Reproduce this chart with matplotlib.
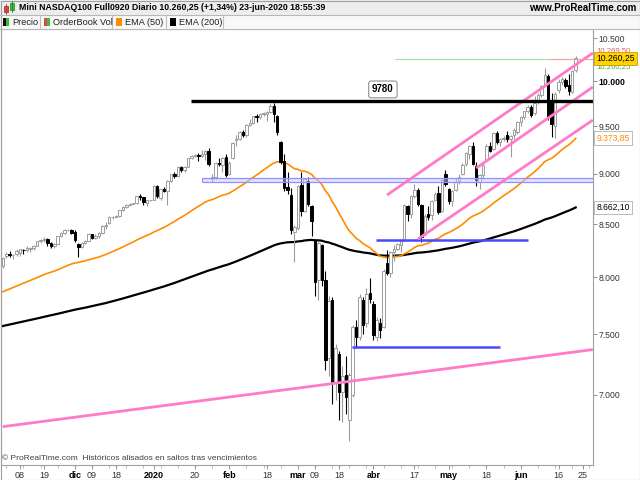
import matplotlib
matplotlib.use("Agg")
import matplotlib.pyplot as plt
import matplotlib.ticker as mticker
import matplotlib.transforms as mtransforms
from matplotlib.patches import Rectangle
import numpy as np
import pandas as pd

plt.rcParams['font.family'] = ['Liberation Sans', 'DejaVu Sans']

# trading sessions (business days); the axis runs a week past the last bar
days = pd.bdate_range('2019-11-01', '2020-07-03')

opens = [8100, 8195, 8215, 8205, 8215, 8225, 8255, 8250, 8260, 8270,
         8295, 8335, 8345, 8355, 8320, 8295, 8310, 8385, 8410, 8440,
         8445, 8420, 8310, 8285, 8320, 8340, 8400, 8370, 8385, 8415,
         8480, 8510, 8565, 8570, 8575, 8640, 8665, 8690, 8700, 8705,
         8780, 8765, 8705, 8735, 8740, 8880, 8760, 8845, 8830, 8930,
         8995, 8980, 9070, 9040, 9070, 9160, 9185, 9190, 9180, 9200,
         9235, 8950, 8965, 9115, 9090, 9170, 9000, 9160, 9350, 9365,
         9435, 9400, 9515, 9535, 9610, 9600, 9630, 9630, 9655, 9720,
         9610, 9330, 9130, 8870, 8790, 8420, 8460, 8890, 8630, 8930,
         8680, 8350, 7980, 8300, 7980, 7300, 7800, 7100, 7330, 7020,
         7160, 6800, 7000, 7560, 7480, 7800, 7600, 7860, 7760, 7480,
         7600, 7560, 8130, 8040, 8230, 8260, 8300, 8350, 8680, 8600,
         8780, 8840, 8690, 8400, 8600, 8590, 8740, 8810, 8630, 9000,
         8850, 8730, 8840, 8930, 9000, 9100, 9200, 9290, 9080, 8920,
         8990, 9150, 9290, 9260, 9430, 9330, 9360, 9400, 9360, 9400,
         9440, 9550, 9600, 9660, 9710, 9640, 9760, 9840, 9960, 10060,
         9790, 9500, 9900, 9990, 10010, 9950, 9880, 10130]
highs = [8190, 8230, 8240, 8220, 8265, 8265, 8265, 8290, 8285, 8300,
         8340, 8355, 8380, 8365, 8330, 8320, 8390, 8420, 8450, 8450,
         8450, 8440, 8320, 8330, 8345, 8410, 8405, 8400, 8420, 8490,
         8520, 8575, 8580, 8590, 8640, 8675, 8700, 8705, 8705, 8780,
         8800, 8770, 8740, 8740, 8885, 8890, 8850, 8865, 8935, 9000,
         9020, 9075, 9080, 9080, 9165, 9195, 9200, 9215, 9245, 9250,
         9270, 9000, 9120, 9160, 9170, 9200, 9130, 9330, 9400, 9450,
         9455, 9520, 9580, 9615, 9630, 9640, 9650, 9665, 9740, 9755,
         9625, 9345, 9200, 9020, 8860, 8490, 8890, 9020, 8960, 8970,
         8690, 8360, 8340, 8310, 8060, 7830, 7820, 7420, 7360, 7230,
         7320, 7180, 7580, 7620, 7850, 7820, 7900, 7990, 7790, 7650,
         7640, 8080, 8250, 8240, 8300, 8320, 8360, 8700, 8690, 8790,
         8900, 8860, 8700, 8600, 8680, 8740, 8820, 8880, 8960, 9040,
         8860, 8840, 8960, 9000, 9110, 9220, 9300, 9330, 9120, 9000,
         9100, 9310, 9330, 9440, 9450, 9370, 9390, 9450, 9400, 9480,
         9560, 9610, 9670, 9730, 9730, 9830, 9860, 9960, 10150, 10080,
         9860, 9880, 10020, 10050, 10040, 10080, 10130, 10290]
lows = [8090, 8180, 8190, 8170, 8200, 8200, 8220, 8235, 8230, 8250,
        8290, 8315, 8330, 8290, 8270, 8270, 8305, 8375, 8405, 8430,
        8400, 8330, 8190, 8270, 8305, 8335, 8360, 8360, 8370, 8400,
        8450, 8505, 8550, 8555, 8570, 8630, 8655, 8680, 8695, 8700,
        8740, 8690, 8680, 8730, 8735, 8760, 8740, 8815, 8690, 8920,
        8960, 8970, 9020, 9020, 9065, 9150, 9175, 9130, 9175, 9140,
        9080, 8920, 8950, 9080, 9020, 8970, 8985, 9150, 9290, 9355,
        9380, 9380, 9500, 9525, 9550, 9580, 9615, 9560, 9645, 9540,
        9400, 9100, 8830, 8800, 8400, 8140, 8440, 8580, 8620, 8680,
        8390, 7830, 7800, 7920, 7200, 7150, 6930, 6960, 6800, 6790,
        6850, 6640, 6980, 7380, 7450, 7500, 7560, 7770, 7450, 7440,
        7470, 7550, 8020, 8000, 8150, 8250, 8230, 8340, 8530, 8560,
        8760, 8680, 8330, 8390, 8540, 8540, 8730, 8600, 8620, 8880,
        8700, 8680, 8830, 8900, 8990, 9080, 9150, 9090, 8880, 8850,
        8950, 9140, 9230, 9250, 9310, 9290, 9340, 9330, 9170, 9360,
        9420, 9500, 9580, 9640, 9600, 9620, 9740, 9820, 9950, 9570,
        9380, 9370, 9860, 9960, 9920, 9840, 9860, 10100]
closes = [8175, 8215, 8205, 8210, 8240, 8260, 8250, 8270, 8275, 8290,
          8335, 8345, 8360, 8320, 8290, 8305, 8385, 8410, 8440, 8445,
          8415, 8345, 8280, 8320, 8335, 8400, 8370, 8385, 8415, 8480,
          8495, 8565, 8570, 8575, 8635, 8665, 8690, 8700, 8702, 8775,
          8765, 8715, 8735, 8738, 8880, 8780, 8845, 8830, 8925, 8995,
          8975, 9070, 9040, 9065, 9160, 9185, 9190, 9180, 9200, 9235,
          9105, 8965, 9110, 9100, 9160, 8990, 9115, 9320, 9365, 9440,
          9410, 9515, 9530, 9605, 9595, 9630, 9640, 9650, 9720, 9630,
          9440, 9120, 8860, 8840, 8440, 8470, 8880, 8630, 8950, 8700,
          8530, 7960, 8320, 7980, 7280, 7790, 7100, 7380, 7020, 7150,
          6980, 7160, 7560, 7480, 7820, 7580, 7850, 7810, 7490, 7620,
          7540, 8060, 8040, 8230, 8260, 8310, 8340, 8690, 8600, 8780,
          8840, 8700, 8380, 8580, 8570, 8730, 8800, 8620, 8940, 8900,
          8730, 8830, 8920, 8970, 9090, 9210, 9290, 9100, 8940, 8990,
          9090, 9290, 9240, 9430, 9330, 9360, 9370, 9360, 9390, 9460,
          9550, 9600, 9660, 9710, 9620, 9750, 9840, 9940, 10070, 9600,
          9520, 9850, 9990, 10020, 9940, 9890, 10120, 10260.25]

# EMA levels at the left edge of the chart (history before the window)
ema50_start = 7870
ema200_start = 7570
ema50_label = '9.373,85'
ema200_label = '8.662,10'

# drawn objects
resistance = 9780
resistance_from = '2020-01-16'
band = (8915, 8958)
band_from = '2020-01-22'
blue_lines = [('2020-04-02', '2020-06-03', 8347),
              ('2020-03-24', '2020-05-22', 7388)]
pink_lines = [('2019-11-01', 6752, '2020-06-30', 7370),
              ('2020-04-07', 8785, '2020-06-30', 10324),
              ('2020-05-13', 9058, '2020-06-30', 9932),
              ('2020-04-20', 8356, '2020-06-30', 9566)]

last_price = 10260.25
ask_price = 10269.50

y_ticks = [7000, 7500, 8000, 8500, 9000, 9500, 10000, 10500]
x_tick_days = ['2019-11-08', '2019-11-19', '2019-12-02', '2019-12-09', '2019-12-18',
               '2020-01-02', '2020-01-20', '2020-02-03', '2020-02-18', '2020-03-02',
               '2020-03-09', '2020-03-18', '2020-04-01', '2020-04-17', '2020-05-01',
               '2020-05-18', '2020-06-01', '2020-06-16', '2020-06-25']
x_tick_text = ['08', '19', 'dic', '09', '18', '2020', '20', 'feb', '18', 'mar',
               '09', '18', 'abr', '17', 'may', '18', 'jun', '16', '25']
bold_ticks = ['dic', '2020', 'feb', 'mar', 'abr', 'may', 'jun']


def pos(day):
    return days.get_loc(pd.Timestamp(day))


def ema(values, span, start):
    a = 2.0 / (span + 1)
    out = [start]
    for v in values[1:]:
        out.append(out[-1] + a * (v - out[-1]))
    return np.array(out)


o = np.array(opens, float)
h = np.array(highs, float)
l = np.array(lows, float)
c = np.array(closes, float)
x = np.arange(len(c))

fig = plt.figure(figsize=(6.4, 4.8), dpi=100)
ax = fig.add_axes([1 / 640, 15 / 480, 592 / 640, 436 / 480])
ax.set_yscale('log')
ax.set_xlim(-0.54, 172.05)
ax.set_ylim(6464, 10609)

# EMAs
ax.plot(x, ema(c, 200, ema200_start), color='black', lw=1.6, zorder=2)
ax.plot(x, ema(c, 50, ema50_start), color='#ff8c00', lw=1.2, zorder=2)

# candles
up = c >= o
gray = '#9c9c9c'
ax.vlines(x[up], l[up], h[up], color=gray, lw=0.8, zorder=3)
ax.vlines(x[~up], l[~up], h[~up], color='black', lw=0.8, zorder=3)
bottom = np.minimum(o, c)
height = np.maximum(np.abs(c - o), 4)
ax.bar(x[up], height[up], bottom=bottom[up], width=0.72, color='white',
       edgecolor=gray, lw=0.7, zorder=4)
ax.bar(x[~up], height[~up], bottom=bottom[~up], width=0.72, color='black',
       edgecolor='black', lw=0.7, zorder=4)

right = ax.get_xlim()[1]

# blue band
b0 = pos(band_from) + 0.1
ax.fill_between([b0, right], band[0], band[1], color='#c8c8ff', alpha=0.5, lw=0, zorder=5)
ax.hlines(band, b0, right, color='#9090ff', lw=0.9, zorder=5)
ax.vlines(b0, band[0], band[1], color='#9090ff', lw=0.9, zorder=5)

# horizontal blue lines
for d0, d1, lvl in blue_lines:
    ax.hlines(lvl, pos(d0) - 0.3, pos(d1), color='#4848ff', lw=1.8, zorder=5)

# pink trend lines
for d0, p0, d1, p1 in pink_lines:
    ax.plot([pos(d0), pos(d1)], [p0, p1], color='#ff7ac8', lw=2.0, zorder=5,
            solid_capstyle='butt')

# resistance
ax.hlines(resistance, pos(resistance_from) + 0.9, right, color='black', lw=2.4, zorder=6)
ax.text(110.8, 9905, f'{resistance}', ha='center', va='center', fontsize=7,
        fontweight='bold', zorder=7,
        bbox=dict(boxstyle='round,pad=0.35,rounding_size=0.25', fc='white', ec='#909090', lw=0.8))

# last price line (bid / ask)
ax.hlines(10255, 114.3, 158.8, color='#9ee09e', lw=0.8, zorder=5)
ax.hlines(10255, 158.8, right, color='#f0a0a0', lw=0.8, zorder=5)

# axes styling
for s in ax.spines.values():
    s.set_color('#a0a0a0')
    s.set_linewidth(0.8)
ax.yaxis.tick_right()
ax.yaxis.set_major_locator(mticker.FixedLocator(y_ticks))
ax.yaxis.set_major_formatter(mticker.FixedFormatter(
    [f'{v:,}'.replace(',', '.') for v in y_ticks]))
ax.yaxis.set_minor_locator(mticker.NullLocator())
ax.tick_params(axis='y', which='major', labelsize=6.2, length=3, width=0.6,
               color='#808080', labelcolor='#333333', pad=1)
for lab in ax.get_yticklabels():
    if lab.get_text() == '10.000':
        lab.set_fontweight('bold')
        lab.set_color('black')

ax.xaxis.set_major_locator(mticker.FixedLocator([pos(d) for d in x_tick_days]))
ax.xaxis.set_major_formatter(mticker.FixedFormatter(x_tick_text))
mondays = [i for i, d in enumerate(days) if d.weekday() == 0]
ax.xaxis.set_minor_locator(mticker.FixedLocator(mondays))
ax.tick_params(axis='x', which='major', labelsize=6.5, length=3, width=0.6,
               color='#808080', labelcolor='#333333', pad=1)
ax.tick_params(axis='x', which='minor', length=2, width=0.5, color='#a0a0a0')
for lab in ax.get_xticklabels():
    if lab.get_text() in bold_ticks:
        lab.set_fontweight('bold')
        lab.set_color('black')

# value boxes on the right axis (bid/ask mostly hidden behind the last price)
tr = mtransforms.blended_transform_factory(ax.transAxes, ax.transData)
ax.text(1.006, ask_price * 1.0085, '10.269,50', transform=tr, fontsize=5.6, color='#e06060',
        va='center', ha='left', zorder=8, clip_on=False)
ax.text(1.006, last_price * 0.9912, '10.260,25', transform=tr, fontsize=5.6, color='#40b040',
        va='center', ha='left', zorder=8, clip_on=False)
ax.text(1.006, last_price, '10.260,25', transform=tr, fontsize=6.2, color='black',
        va='center', ha='left', zorder=9, clip_on=False,
        bbox=dict(boxstyle='square,pad=0.25', fc='#ffd200', ec='#c8a000', lw=0.6))
ax.text(1.006, 9373.85, ema50_label, transform=tr, fontsize=6.2, color='#ff8c00',
        va='center', ha='left', zorder=8, clip_on=False,
        bbox=dict(boxstyle='square,pad=0.25', fc='white', ec='#b0b0b0', lw=0.6))
ax.text(1.006, 8662.10, ema200_label, transform=tr, fontsize=6.2, color='black',
        va='center', ha='left', zorder=8, clip_on=False,
        bbox=dict(boxstyle='square,pad=0.25', fc='white', ec='#b0b0b0', lw=0.6))

# header / frame overlay in pixel units
ov = fig.add_axes([0, 0, 1, 1], zorder=10)
ov.set_xlim(0, 640)
ov.set_ylim(480, 0)
ov.axis('off')
ov.patch.set_alpha(0)

ov.add_patch(Rectangle((0, 0), 640, 15, fc='#ededed', ec='none'))
ov.add_patch(Rectangle((0, 15), 640, 14, fc='#f8f8f8', ec='none'))
ov.plot([0, 640], [15, 15], color='#b8b8b8', lw=0.8)
ov.plot([0, 640], [29, 29], color='#b8b8b8', lw=0.8)
ov.add_patch(Rectangle((0.5, 0.5), 639, 479, fc='none', ec='#a0a0a0', lw=0.8))

# title icon (two candles)
ov.plot([6, 6], [4, 14], color='#c03030', lw=0.6)
ov.add_patch(Rectangle((4, 6), 4, 6, fc='#e04848', ec='#a02020', lw=0.5))
ov.plot([12, 12], [1, 12], color='#208020', lw=0.6)
ov.add_patch(Rectangle((10, 3), 4, 7, fc='#40c040', ec='#208020', lw=0.5))
ov.text(19, 8, 'Mini NASDAQ100 Full0920 Diario 10.260,25 (+1,34%) 23-jun-2020 18:55:39',
        fontsize=6.3, fontweight='bold', va='center', ha='left')
ov.text(636, 8, 'www.ProRealTime.com', fontsize=7, fontweight='bold', va='center', ha='right')

# legend row
legend_items = [('Precio', ('#101010', '#30c030'), 3, 40),
                ('OrderBook Vol', ('#e04848', '#40c040'), 44, 112),
                ('EMA (50)', ('#ff8c00', '#ff8c00'), 116, 166),
                ('EMA (200)', ('#000000', '#000000'), 170, 223)]
for name, cols, x0, x1 in legend_items:
    ov.add_patch(Rectangle((x0, 18), 3, 8, fc=cols[0], ec='none'))
    ov.add_patch(Rectangle((x0 + 3, 18), 3, 8, fc=cols[1], ec='none'))
    ov.text(x0 + 9, 22.5, name, fontsize=6.6, va='center', ha='left', color='#202020')
    ov.plot([x1, x1], [16, 29], color='#c0c0c0', lw=0.8)

ov.text(2, 459, '\u00a9 ProRealTime.com  Históricos alisados en saltos tras vencimientos',
        fontsize=6.0, va='center', ha='left', color='#404040')

fig.savefig('out.png', dpi=100)
